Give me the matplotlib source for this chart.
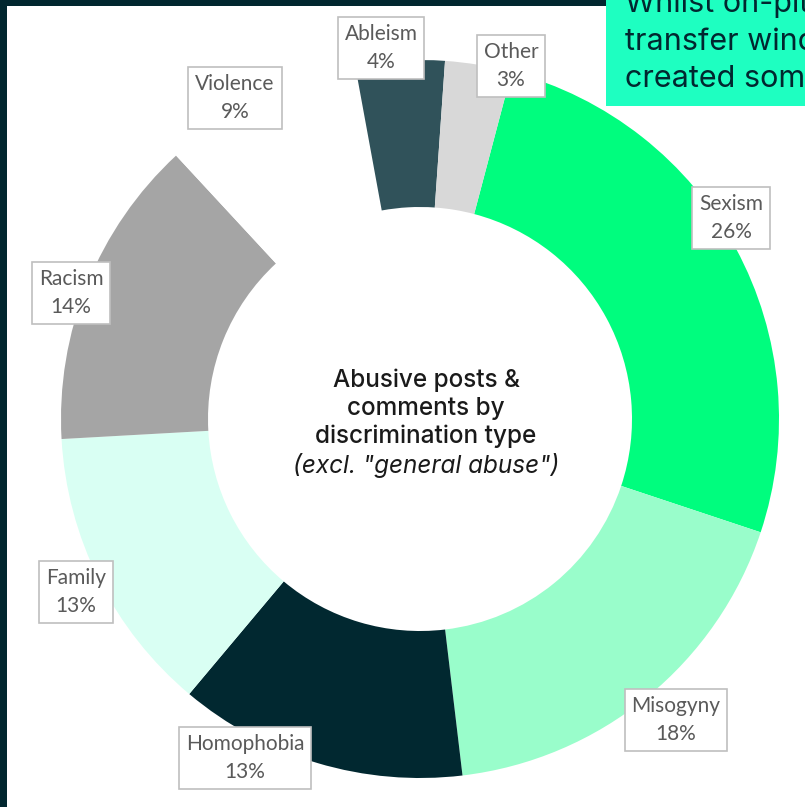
import matplotlib
matplotlib.use("Agg")
import matplotlib.pyplot as plt
from matplotlib.patches import Rectangle

# === data ===
categories = ["Sexism", "Misogyny", "Homophobia", "Family", "Racism", "Violence", "Ableism", "Other"]
shares = [26, 18, 13, 13, 14, 9, 4, 3]
colors = ["#00fd7e", "#99fdcb", "#012830", "#d9fff3", "#a5a5a5", "#ffffff", "#30525a", "#d8d8d8"]

# label box centres in pixels (layout only)
label_pos = {
    "Sexism": (731, 218), "Misogyny": (676, 720), "Homophobia": (245, 758),
    "Family": (76, 592), "Racism": (71, 293), "Violence": (235, 98),
    "Ableism": (381, 48), "Other": (511, 66),
}

title_lines = ["Abusive posts &", "comments by", "discrimination type"]
subtitle = "(excl. \"general abuse\")"
callout_lines = ["Whilst on-pitch", "transfer window", "created some"]

W, H = 805, 807
CX, CY, R_OUT, R_IN = 420, 419, 359, 212
START_ANGLE = 75.2   # Sexism starts ~14.8 deg clockwise from 12 o'clock
DARK = "#01272f"
TEAL = "#1effc1"
TITLE_FONT = "Inter"

fig = plt.figure(figsize=(W / 100, H / 100), dpi=100)
fig.patch.set_facecolor("white")

# frame (dark edges on left and top)
bg = fig.add_axes([0, 0, 1, 1])
bg.set_xlim(0, W)
bg.set_ylim(H, 0)
bg.axis("off")
bg.add_patch(Rectangle((0, 0), 7, H, color=DARK, lw=0))
bg.add_patch(Rectangle((0, 0), 606, 6, color=DARK, lw=0))

# donut
ax = fig.add_axes([(CX - R_OUT) / W, (H - CY - R_OUT) / H, 2 * R_OUT / W, 2 * R_OUT / H])
ax.pie(shares, colors=colors, startangle=START_ANGLE, counterclock=False,
       wedgeprops=dict(width=(R_OUT - R_IN) / R_OUT, linewidth=0))
ax.set_xlim(-1, 1)
ax.set_ylim(-1, 1)
ax.axis("off")

# overlay for labels, title and call-out
top = fig.add_axes([0, 0, 1, 1])
top.set_xlim(0, W)
top.set_ylim(H, 0)
top.axis("off")
top.patch.set_alpha(0)

for name, val in zip(categories, shares):
    x, y = label_pos[name]
    top.text(x, y, f"{name}\n{val}%", ha="center", va="center", fontsize=15,
             family="Lato", color="#5a5a5a", linespacing=1.5,
             bbox=dict(boxstyle="square,pad=0.33", fc="white", ec="#bfbfbf", lw=1.2))

# centre title
for i, line in enumerate(title_lines):
    top.text(CX + 6, 380 + i * 28.3, line, ha="center", va="center",
             fontsize=17.5, family=TITLE_FONT, weight="medium", color="#1a1a1a")
top.text(CX + 6, 465, subtitle, ha="center", va="center",
         fontsize=17.5, family=TITLE_FONT, style="italic", color="#1a1a1a")

# teal call-out box, cut off at the edge
box = Rectangle((606, 0), W - 606, 106, color=TEAL, lw=0)
top.add_patch(box)
for i, line in enumerate(callout_lines):
    t = top.text(625, 12 + i * 37.5, line, ha="left", va="baseline",
                 fontsize=22, family=TITLE_FONT, color=DARK)
    t.set_clip_path(box)

fig.savefig("out.png", dpi=100, facecolor="white")
